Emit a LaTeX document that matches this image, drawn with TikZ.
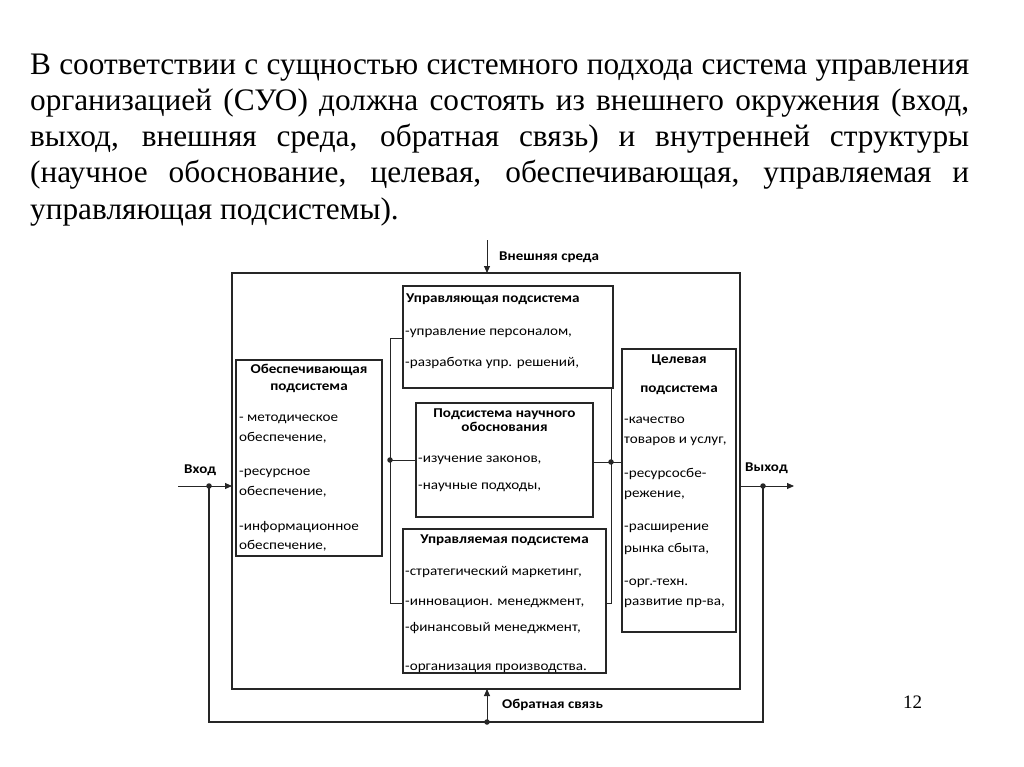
\documentclass[tikz,border=0pt]{standalone}
\usepackage{fontspec}
\setmainfont{Liberation Serif}
\newfontfamily\dgf[FakeStretch=1.12]{Carlito}
\usetikzlibrary{arrows.meta}
\begin{document}
\begin{tikzpicture}[x=1pt,y=-1pt,
  ln/.style={draw=black!85},
  sub/.style={ln, line width=1.1pt, rectangle, inner sep=0pt, outer sep=0pt, anchor=north west},
  sysbox/.style={ln, line width=2.3pt, rectangle, inner sep=0pt, outer sep=0pt, anchor=north west},
  conn/.style={ln, line width=0.9pt},
  arr/.style={conn, -{Triangle[length=7pt,width=6pt]}},
  jdot/.style={circle, fill=black!85, inner sep=0pt, minimum size=5.5pt},
  tx/.style={anchor=base west, inner sep=0pt, font=\dgf\fontsize{13.5}{16}\selectfont},
  hd/.style={anchor=base, inner sep=0pt, font=\dgf\bfseries\fontsize{13.5}{16}\selectfont},
  hdl/.style={anchor=base west, inner sep=0pt, font=\dgf\bfseries\fontsize{13.5}{16}\selectfont},
  lab/.style={anchor=base west, inner sep=0pt, font=\dgf\bfseries\fontsize{13.4}{16}\selectfont},
  ttl/.style={anchor=base west, inner sep=0pt, font=\fontsize{31.3}{36}\selectfont}]
\fill[white] (0,0) rectangle (1024,767);
\useasboundingbox (0,0) rectangle (1024,767);

% title
\node[ttl] (t1) at (30,75) {\hbox to 939pt{В соответствии с сущностью системного подхода система управления}};
\node[ttl] (t2) at (30,111) {\hbox to 939pt{организацией (СУО) должна состоять из внешнего окружения (вход,}};
\node[ttl] (t3) at (30,147) {\hbox to 939pt{выход, внешняя среда, обратная связь) и внутренней структуры}};
\node[ttl] (t4) at (30,183) {\hbox to 939pt{(научное обоснование, целевая, обеспечивающая, управляемая и}};
\node[ttl] (t5) at (30,219) {управляющая подсистемы).};

% boxes
\node[sysbox, minimum width=508pt, minimum height=416pt] (sys) at (232,273) {};
\node[sub, minimum width=210pt, minimum height=102pt] (upr) at (403,286) {};
\node[sub, minimum width=146pt, minimum height=196pt] (ob) at (236,360) {};
\node[sub, minimum width=177pt, minimum height=114pt] (na) at (416,403) {};
\node[sub, minimum width=203pt, minimum height=144pt] (uv) at (403,529) {};
\node[sub, minimum width=114pt, minimum height=283pt] (cel) at (622,349) {};

% texts
\node[hdl] (upr-h) at (406,302) {Управляющая подсистема};
\node[tx] (upr-1) at (405,335) {-управление персоналом,};
\node[tx] (upr-2) at (405,366) {-разработка упр. решений,};

\node[hd] (ob-h1) at (309,373) {Обеспечивающая};
\node[hd] (ob-h2) at (309,390) {подсистема};
\node[tx] (ob-1) at (239,421) {- методическое};
\node[tx] (ob-2) at (239,441) {обеспечение,};
\node[tx] (ob-3) at (239,475) {-ресурсное};
\node[tx] (ob-4) at (239,495) {обеспечение,};
\node[tx] (ob-5) at (239,530) {-информационное};
\node[tx] (ob-6) at (239,549) {обеспечение,};

\node[hd] (na-h1) at (504.5,417) {Подсистема научного};
\node[hd] (na-h2) at (504.5,431) {обоснования};
\node[tx] (na-1) at (418,462) {-изучение законов,};
\node[tx] (na-2) at (418,489) {-научные подходы,};

\node[hd] (uv-h) at (504.5,543) {Управляемая подсистема};
\node[tx] (uv-1) at (405,575) {-стратегический маркетинг,};
\node[tx] (uv-2) at (405,605) {-инновацион. менеджмент,};
\node[tx] (uv-3) at (405,631) {-финансовый менеджмент,};
\node[tx] (uv-4) at (405,670) {-организация производства.};

\node[hd] (cel-h1) at (679,363) {Целевая};
\node[hd] (cel-h2) at (679,392) {подсистема};
\node[tx] (cel-1) at (624,423) {-качество};
\node[tx] (cel-2) at (624,443) {товаров и услуг,};
\node[tx] (cel-3) at (624,477) {-ресурсосбе-};
\node[tx] (cel-4) at (624,497) {режение,};
\node[tx] (cel-5) at (624,530) {-расширение};
\node[tx] (cel-6) at (624,552) {рынка сбыта,};
\node[tx] (cel-7) at (624,585) {-орг.-техн.};
\node[tx] (cel-8) at (624,605) {развитие пр-ва,};

\node[lab] (l-env) at (499,260) {Внешняя среда};
\node[lab] (l-in) at (184,473) {Вход};
\node[lab] (l-out) at (745,471) {Выход};
\node[lab] (l-fb) at (502,708) {Обратная связь};

\node[anchor=base west, inner sep=0pt, font=\fontsize{19}{22}\selectfont] (pg) at (903,708) {12};

% connectors
\coordinate (lb1) at (390,338);
\coordinate (lb2) at (390,603);
\draw[conn] (upr.west |- lb1) -- (lb1) -- (lb2) -- (uv.west |- lb2);
\node[jdot] (jl) at (390,460) {};
\draw[conn] (jl.center) -- (na.west |- jl);

\coordinate (rb2) at (611,603);
\draw[conn] (upr.south -| rb2) -- (rb2) -- (uv.east |- rb2);
\node[jdot] (jr) at (611,462) {};
\draw[conn] (na.east |- jr) -- (cel.west |- jr);

\coordinate (in0) at (178,486);
\node[jdot] (din) at (209,486) {};
\draw[arr] (in0) -- (sys.west |- in0);
\coordinate (out1) at (794,486);
\node[jdot] (dout) at (763,486) {};
\draw[arr] (sys.east |- out1) -- (out1);

\coordinate (env0) at (487,240);
\draw[arr] (env0) -- (sys.north -| env0);

\coordinate (fbl) at (209,722);
\coordinate (fbr) at (763,722);
\node[jdot] (dfb) at (487,722) {};
\draw[conn, line width=1.1pt] (din.center) -- (fbl) -- (fbr) -- (dout.center);
\draw[arr] (dfb.center) -- (sys.south -| dfb);
\end{tikzpicture}
\end{document}
